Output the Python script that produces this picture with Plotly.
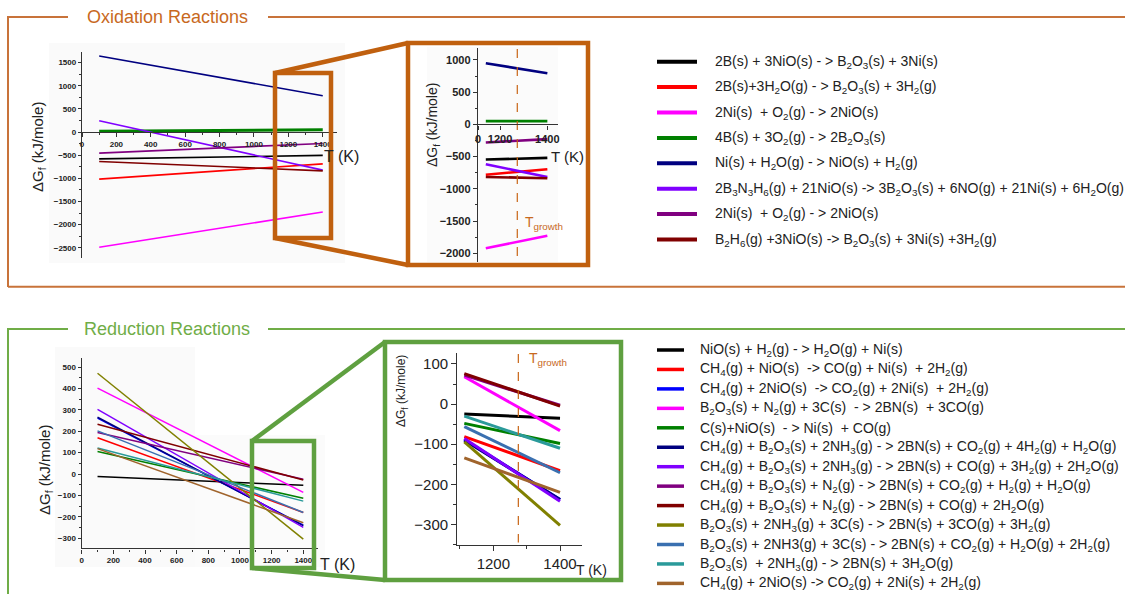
import plotly.graph_objects as go

W, H = 1125, 594


def px(x):
    return x / W


def py(y):
    return 1 - y / H


# ---------------- Oxidation reactions ----------------
ox_labels = [
    "2B(s) + 3NiO(s) - > B<sub>2</sub>O<sub>3</sub>(s) + 3Ni(s)",
    "2B(s)+3H<sub>2</sub>O(g) - > B<sub>2</sub>O<sub>3</sub>(s) + 3H<sub>2</sub>(g)",
    "2Ni(s)  + O<sub>2</sub>(g) - > 2NiO(s)",
    "4B(s) + 3O<sub>2</sub>(g) - > 2B<sub>2</sub>O<sub>3</sub>(s)",
    "Ni(s) + H<sub>2</sub>O(g) - > NiO(s) + H<sub>2</sub>(g)",
    "2B<sub>3</sub>N<sub>3</sub>H<sub>6</sub>(g) + 21NiO(s) -> 3B<sub>2</sub>O<sub>3</sub>(s) + 6NO(g) + 21Ni(s) + 6H<sub>2</sub>O(g)",
    "2Ni(s)  + O<sub>2</sub>(g) - > 2NiO(s)",
    "B<sub>2</sub>H<sub>6</sub>(g) +3NiO(s) -> B<sub>2</sub>O<sub>3</sub>(s) + 3Ni(s) +3H<sub>2</sub>(g)",
]
ox_colors = ["#000000", "#FF0000", "#FF00FF", "#008000",
             "#000080", "#8000FF", "#800080", "#800000"]

# full temperature range (K) and ΔGf (kJ/mole) at its ends
ox_T = [100, 1400]
ox_dG = [
    [-578, -504],
    [-1017, -686],
    [-2489, -1725],
    [20, 50],
    [1645, 786],
    [245, -822],
    [-455, -245],
    [-634, -837],
]
# zoomed window near growth temperature
ox_T_zoom = [1140, 1400]
ox_dG_zoom = [
    [-545, -520],
    [-780, -695],
    [-1922, -1727],
    [51, 51],
    [949, 793],
    [-618, -815],
    [-280, -228],
    [-815, -835],
]
ox_zoom_ticks = [1107, 1200, 1400]
ox_zoom_ticktext = ["0", "1200", "1400"]
T_growth_ox = 1273

# ---------------- Reduction reactions ----------------
red_labels = [
    "NiO(s) + H<sub>2</sub>(g) - > H<sub>2</sub>O(g) + Ni(s)",
    "CH<sub>4</sub>(g) + NiO(s)  -> CO(g) + Ni(s)  + 2H<sub>2</sub>(g)",
    "CH<sub>4</sub>(g) + 2NiO(s)  -> CO<sub>2</sub>(g) + 2Ni(s)  + 2H<sub>2</sub>(g)",
    "B<sub>2</sub>O<sub>3</sub>(s) + N<sub>2</sub>(g) + 3C(s)  - > 2BN(s)  + 3CO(g)",
    "C(s)+NiO(s)  - > Ni(s)  + CO(g)",
    "CH<sub>4</sub>(g) + B<sub>2</sub>O<sub>3</sub>(s) + 2NH<sub>3</sub>(g) - > 2BN(s) + CO<sub>2</sub>(g) + 4H<sub>2</sub>(g) + H<sub>2</sub>O(g)",
    "CH<sub>4</sub>(g) + B<sub>2</sub>O<sub>3</sub>(s) + 2NH<sub>3</sub>(g) - > 2BN(s) + CO(g) + 3H<sub>2</sub>(g) + 2H<sub>2</sub>O(g)",
    "CH<sub>4</sub>(g) + B<sub>2</sub>O<sub>3</sub>(s) + N<sub>2</sub>(g) - > 2BN(s) + CO<sub>2</sub>(g) + H<sub>2</sub>(g) + H<sub>2</sub>O(g)",
    "CH<sub>4</sub>(g) + B<sub>2</sub>O<sub>3</sub>(s) + N<sub>2</sub>(g) - > 2BN(s) + CO(g) + 2H<sub>2</sub>O(g)",
    "B<sub>2</sub>O<sub>3</sub>(s) + 2NH<sub>3</sub>(g) + 3C(s) - > 2BN(s) + 3CO(g) + 3H<sub>2</sub>(g)",
    "B<sub>2</sub>O<sub>3</sub>(s) + 2NH3(g) + 3C(s) - > 2BN(s) + CO<sub>2</sub>(g) + H<sub>2</sub>O(g) + 2H<sub>2</sub>(g)",
    "B<sub>2</sub>O<sub>3</sub>(s)  + 2NH<sub>3</sub>(g) - > 2BN(s) + 3H<sub>2</sub>O(g)",
    "CH<sub>4</sub>(g) + 2NiO(s) -> CO<sub>2</sub>(g) + 2Ni(s) + 2H<sub>2</sub>(g)",
]
red_colors = ["#000000", "#FF0000", "#0000FF", "#FF00FF", "#008000",
              "#000080", "#8000FF", "#800080", "#800000", "#808000",
              "#3A70B0", "#2A9A9A", "#A0642C"]

red_T = [100, 1400]
red_dG = [
    [-12, -53],
    [170, -180],
    [262, -240],
    [402, -86],
    [105, -114],
    [266, -242],
    [303, -250],
    [194, -25],
    [233, -28],
    [472, -305],
    [202, -180],
    [122, -127],
    [119, -228],
]
red_T_zoom = [1113, 1400]
red_dG_zoom = [
    [-25, -35],
    [-81, -166],
    [-88, -238],
    [68, -66],
    [-48, -98],
    [-90, -238],
    [-86, -242],
    [72, -3],
    [76, -5],
    [-94, -302],
    [-56, -171],
    [-30, -110],
    [-134, -220],
]
T_growth_red = 1275

ORANGE = "#C8733A"
ORANGE_DARK = "#C0600F"
GREEN = "#70AD47"
GREEN_DARK = "#5FA040"
AXIS = "#333333"
TXT = "#222222"
FONT = "Liberation Sans, Arial, sans-serif"

fig = go.Figure()

for vals, col in zip(ox_dG, ox_colors):
    fig.add_trace(go.Scatter(x=ox_T, y=vals, mode="lines", xaxis="x", yaxis="y",
                             line=dict(color=col, width=3 if col == "#008000" else 1.6),
                             showlegend=False, hoverinfo="skip"))
for vals, col in zip(ox_dG_zoom, ox_colors):
    fig.add_trace(go.Scatter(x=ox_T_zoom, y=vals, mode="lines", xaxis="x2", yaxis="y2",
                             line=dict(color=col, width=2.6),
                             showlegend=False, hoverinfo="skip"))
for vals, col in zip(red_dG, red_colors):
    fig.add_trace(go.Scatter(x=red_T, y=vals, mode="lines", xaxis="x3", yaxis="y3",
                             line=dict(color=col, width=1.5),
                             showlegend=False, hoverinfo="skip"))
for vals, col in zip(red_dG_zoom, red_colors):
    fig.add_trace(go.Scatter(x=red_T_zoom, y=vals, mode="lines", xaxis="x4", yaxis="y4",
                             line=dict(color=col, width=3),
                             showlegend=False, hoverinfo="skip"))

# growth temperature markers
fig.add_trace(go.Scatter(x=[T_growth_ox, T_growth_ox], y=[1170, -2120], mode="lines",
                         xaxis="x2", yaxis="y2", showlegend=False, hoverinfo="skip",
                         line=dict(color="#C86414", width=1.2, dash="dash")))
fig.add_trace(go.Scatter(x=[T_growth_red, T_growth_red], y=[125, -345], mode="lines",
                         xaxis="x4", yaxis="y4", showlegend=False, hoverinfo="skip",
                         line=dict(color="#C86414", width=1.2, dash="dash")))


def axis_common(**kw):
    d = dict(showgrid=False, zeroline=False, showline=True, linecolor=AXIS,
             linewidth=1.4, ticks="outside", tickcolor=AXIS, tickwidth=1,
             ticklen=4)
    d.update(kw)
    return d


small_bold = dict(family=FONT, size=8, color=TXT, weight="bold")

fig.update_layout(
    width=W, height=594, autosize=False,
    margin=dict(l=0, r=0, t=0, b=0),
    paper_bgcolor="white", plot_bgcolor="rgba(0,0,0,0)",
    template="none",
    xaxis=axis_common(domain=[px(82), px(336.5)], range=[0, 1480], anchor="free",
                      position=py(132), tick0=0, dtick=200, tickfont=small_bold,
                      minor=dict(ticks="outside", ticklen=2, dtick=100, tickcolor=AXIS)),
    yaxis=axis_common(domain=[py(258), py(52)], range=[-2720, 1730], anchor="x",
                      tick0=0, dtick=500, tickfont=small_bold, ticklen=3,
                      minor=dict(ticks="outside", ticklen=2, dtick=250, tickcolor=AXIS)),
    xaxis2=axis_common(domain=[px(478), px(558)], range=[1107, 1445], anchor="free",
                       position=py(124.3), tickvals=ox_zoom_ticks, ticktext=ox_zoom_ticktext,
                       tickfont=dict(family=FONT, size=11, color=TXT, weight="bold")),
    yaxis2=axis_common(domain=[py(261.7), py(48)], range=[-2130, 1185], anchor="x2",
                       tick0=0, dtick=500,
                       tickfont=dict(family=FONT, size=11, color=TXT, weight="bold"),
                       minor=dict(ticks="outside", ticklen=2, dtick=250, tickcolor=AXIS)),
    xaxis3=axis_common(domain=[px(81.7), px(318)], range=[0, 1493], anchor="y3",
                       tick0=0, dtick=200, tickfont=small_bold,
                       minor=dict(ticks="outside", ticklen=2, dtick=100, tickcolor=AXIS)),
    yaxis3=axis_common(domain=[py(548.3), py(358.3)], range=[-348, 542], anchor="x3",
                       tick0=0, dtick=100, tickfont=small_bold, ticklen=3,
                       minor=dict(ticks="outside", ticklen=2, dtick=50, tickcolor=AXIS)),
    xaxis4=axis_common(domain=[px(457.3), px(581.7)], range=[1092, 1465], anchor="y4",
                       tick0=1200, dtick=200, ticklen=5,
                       tickfont=dict(family=FONT, size=15, color=TXT),
                       minor=dict(ticks="outside", ticklen=3, dtick=100, tickcolor=AXIS)),
    yaxis4=axis_common(domain=[py(545), py(352.7)], range=[-351, 128], anchor="x4",
                       tick0=0, dtick=100, ticklen=5,
                       tickfont=dict(family=FONT, size=15, color=TXT),
                       minor=dict(ticks="outside", ticklen=3, dtick=50, tickcolor=AXIS)),
)

shapes = []
annotations = []


def pline(x0, y0, x1, y1, color, width, layer="above"):
    shapes.append(dict(type="line", xref="paper", yref="paper",
                       x0=px(x0), y0=py(y0), x1=px(x1), y1=py(y1),
                       line=dict(color=color, width=width), layer=layer))


def prect(x0, y0, x1, y1, color=None, width=0, fill=None, layer="above"):
    shapes.append(dict(type="rect", xref="paper", yref="paper",
                       x0=px(x0), y0=py(y0), x1=px(x1), y1=py(y1),
                       line=dict(color=color or "rgba(0,0,0,0)", width=width),
                       fillcolor=fill or "rgba(0,0,0,0)", layer=layer))


def text(x, y, s, size, color=TXT, xanchor="center", angle=0, weight="normal"):
    annotations.append(dict(xref="paper", yref="paper", x=px(x), y=py(y), text=s,
                            showarrow=False, xanchor=xanchor, yanchor="middle",
                            textangle=angle,
                            font=dict(family=FONT, size=size, color=color, weight=weight)))


# faint backdrop behind the overview plots
prect(49, 43, 345, 263, fill="#FAFAFA", layer="below")
prect(427, 47, 558, 262, fill="#FBFBFB", layer="below")
prect(55, 347, 195, 567, fill="#FAFAFA", layer="below")
prect(195, 435, 325, 567, fill="#FBFBFB", layer="below")

# panel frames
pline(8, 17, 68, 17, ORANGE, 2)
pline(268, 17, 1125, 17, ORANGE, 2)
pline(8, 16, 8, 287, ORANGE, 2)
pline(8, 286.7, 1125, 286.7, ORANGE, 2)
text(167.5, 17, "Oxidation Reactions", 18, color="#C8691E")

pline(8, 329, 68, 329, GREEN, 2)
pline(268, 329, 1125, 329, GREEN, 2)
pline(8, 328, 8, 594, GREEN, 2)
text(167.5, 328.5, "Reduction Reactions", 18, color=GREEN)

# zoom boxes with connecting lines
prect(275, 73, 331, 238, color=ORANGE_DARK, width=4.5)
pline(275, 73, 408, 43, ORANGE_DARK, 4.5)
pline(275, 238, 408, 265, ORANGE_DARK, 4.5)
prect(408, 43, 588, 265, color=ORANGE_DARK, width=4.5)

prect(252, 441, 314, 568, color=GREEN_DARK, width=4.5)
pline(252, 441, 385, 342, GREEN_DARK, 4.5)
pline(252, 568, 385, 580, GREEN_DARK, 4.5)
prect(385, 342, 621, 580, color=GREEN_DARK, width=4.5)

# axis titles
dG = "ΔG<sub>f</sub> (kJ/mole)"
text(38, 147, dG, 15, angle=-90)
text(433, 125, dG, 14, angle=-90)
text(46, 470, dG, 15, angle=-90)
text(402, 391, dG, 12, angle=-90)
text(322, 156, "T (K)", 16, xanchor="left")
text(549, 156, "T (K)", 15, xanchor="left")
text(318, 564, "T (K)", 16, xanchor="left")
text(574, 570, "T (K)", 14, xanchor="left")
text(523, 223, "T<sub>growth</sub>", 14, color="#C8691E", xanchor="left")
text(527, 359, "T<sub>growth</sub>", 14, color="#C8691E", xanchor="left")

# legends
for i, (lab, col) in enumerate(zip(ox_labels, ox_colors)):
    yy = 61.7 + i * 25.4
    pline(657, yy, 697, yy, col, 4)
    text(713, yy, lab, 14, xanchor="left")

for i, (lab, col) in enumerate(zip(red_labels, red_colors)):
    yy = 350 + i * 19.45
    pline(657, yy, 684, yy, col, 3.5)
    text(698, yy, lab, 14, xanchor="left")

fig.update_layout(shapes=shapes, annotations=annotations)
fig.write_html("out.html")
